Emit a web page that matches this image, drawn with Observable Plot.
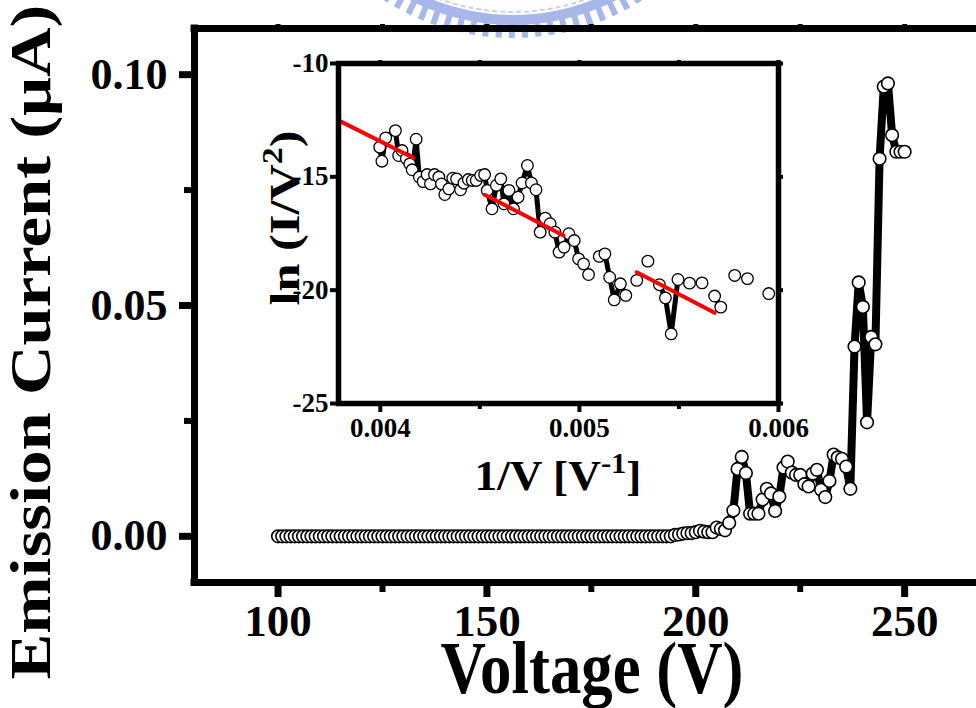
<!DOCTYPE html>
<html><head><meta charset="utf-8">
<script src="https://cdn.jsdelivr.net/npm/d3@7"></script>
<script src="https://cdn.jsdelivr.net/npm/@observablehq/plot@0.6"></script>
<style>
html,body{margin:0;padding:0;background:#fff;overflow:hidden;}
#chart{position:relative;width:976px;height:708px;}
#chart svg{position:absolute;}
</style></head><body><div id="chart"></div>
<script>
// ---- main series: Voltage (V) vs Emission Current (uA)
const voltage = [
100,101,102,103,104,105,106,107,108,109,110,111,112,113,114,115,116,117,118,119,
120,121,122,123,124,125,126,127,128,129,130,131,132,133,134,135,136,137,138,139,
140,141,142,143,144,145,146,147,148,149,150,151,152,153,154,155,156,157,158,159,
160,161,162,163,164,165,166,167,168,169,170,171,172,173,174,175,176,177,178,179,
180,181,182,183,184,185,186,187,188,189,190,191,192,193,194,195,196,197,198,199,
200,201,202,203,204,205,206,207,208,209,210,211,212,213,214,215,216,217,218,219,
220,221,222,223,224,225,226,227,228,229,230,231,232,233,234,235,236,237,238,239,
240,241,242,243,244,245,246,247,248,249,250];
const current = [
0,0,0,0,0,0,0,0,0,0,0,0,0,0,0,0,0,0,0,0,
0,0,0,0,0,0,0,0,0,0,0,0,0,0,0,0,0,0,0,0,
0,0,0,0,0,0,0,0,0,0,0,0,0,0,0,0,0,0,0,0,
0,0,0,0,0,0,0,0,0,0,0,0,0,0,0,0,0,0,0,0,
0,0,0,0,0,0,0,0,0,0,0,0,0,0,0,0.0003,0.0004,0.0006,0.0007,0.0007,
0.0009,0.0012,0.0010,0.0009,0.0009,0.0019,0.0016,0.0013,0.0029,0.0056,
0.0146,0.0172,0.0137,0.0049,0.0049,0.0049,0.0080,0.0103,0.0093,0.0055,
0.0086,0.0149,0.0162,0.0138,0.0133,0.0133,0.0113,0.0108,0.0136,0.0144,
0.0101,0.0085,0.0120,0.0177,0.0171,0.0168,0.0151,0.0103,0.0411,0.0550,
0.0497,0.0247,0.0432,0.0416,0.0818,0.0974,0.0981,0.0869,0.0833,0.0833,0.0833];

// ---- inset: ln(I/V^2) vs 1/V
const insetX = [
0.003997,0.004008,0.004027,0.004076,0.004092,0.004109,0.004131,0.004148,0.004160,0.004180,
0.004196,0.004215,0.004235,0.004252,0.004272,0.004294,0.004307,0.004324,0.004344,0.004364,
0.004383,0.004403,0.004420,0.004442,0.004462,0.004482,0.004504,0.004524,0.004537,0.004561,
0.004583,0.004605,0.004621,0.004646,0.004669,0.004692,0.004712,0.004739,0.004759,0.004782,
0.004803,0.004828,0.004853,0.004877,0.004898,0.004923,0.004947,0.004974,0.004996,0.005021,
0.005046,0.005100,0.005128,0.005152,0.005175,0.005206,0.005233,0.005288,0.005344,0.005402,
0.005432,0.005461,0.005495,0.005553,0.005616,0.005679,0.005710,0.005780,0.005844,0.005951];
const insetY = [
-13.69,-14.31,-13.28,-12.96,-14.06,-13.84,-14.20,-14.43,-14.69,-13.34,
-15.01,-15.21,-14.90,-15.31,-14.90,-15.01,-15.31,-15.78,-15.53,-15.06,
-15.09,-15.57,-15.28,-15.12,-15.16,-15.16,-14.94,-14.90,-15.60,-16.41,
-15.38,-15.09,-16.19,-15.60,-16.41,-15.90,-15.27,-14.50,-15.27,-15.57,
-17.44,-16.82,-17.07,-17.44,-18.32,-18.10,-17.51,-17.81,-18.62,-18.84,
-19.31,-18.51,-18.40,-19.43,-20.43,-19.72,-20.23,-19.57,-18.72,-19.76,
-20.34,-21.93,-19.53,-19.69,-19.68,-20.26,-20.75,-19.35,-19.49,-20.15];
const insetSeg = [
1,1,1,1,1,1,1,1,1,1, 1,1,1,1,1,1,1,1,1,1, 1,1,1,1,1,1,1,1,1,1,
1,1,1,1,1,1,1,1,1,1, 1,1,1,1,1,1,1,1,1,1, 1,
2,2,2,2,2,2, 3, 4, 5,5,5,5, 6, 7, 8,8, 9, 10, 11];

// ---- red linear fits in the inset
const fitId = [1,1,2,2,3,3];
const fitX = [0.00379,0.004165, 0.004524,0.004920, 0.005288,0.005679];
const fitY = [-12.51,-14.16, -15.79,-17.59, -19.21,-21.00];

// ---- ticks
const mainXTicks = [100,150,200,250];
const mainXMinor = [125,175,225];
const mainXAll = [100,125,150,175,200,225,250];
const mainYTicks = [0,0.05,0.10];
const mainYMinor = [0.025,0.075];
const insetXTicks = [0.004,0.005,0.006];
const insetXMinor = [0.0045,0.0055];
const insetXAll = [0.004,0.0045,0.005,0.0055,0.006];
const insetYTicks = [-10,-15,-20,-25];

const FONT = "'Liberation Serif','Times New Roman',Times,serif";
const mainData = voltage.map((v,i)=>({v, c: current[i]}));
const insetData = insetX.map((x,i)=>({x, y: insetY[i], s: insetSeg[i]}));
const fits = fitX.map((x,i)=>({x, y: fitY[i], id: fitId[i]}));
const noText = {text: null, tickFormat: () => "", label: null};

const main = Plot.plot({
  width: 976, height: 708,
  marginLeft: 194, marginRight: 0, marginTop: 28, marginBottom: 126,
  style: {fontFamily: FONT, fontWeight: "bold", background: "transparent", maxWidth: "none"},
  x: {domain: [80, 267.2]},
  y: {domain: [-0.01, 0.11]},
  marks: [
    Plot.axisX({ticks: mainXTicks, tickSize: 15, tickPadding: 7, fontSize: 45, fontWeight: "bold",
      strokeWidth: 7, tickFormat: d => String(d), label: null}),
    Plot.axisX({ticks: mainXMinor, tickSize: 10, strokeWidth: 6, ...noText}),
    Plot.axisX({anchor: "top", ticks: mainXAll, tickSize: 5, strokeWidth: 5, ...noText}),
    Plot.axisY({ticks: mainYTicks, tickSize: 15, tickPadding: 12, fontSize: 44, fontWeight: "bold",
      strokeWidth: 7, tickFormat: d3.format(".2f"), label: null}),
    Plot.axisY({ticks: mainYMinor, tickSize: 10, strokeWidth: 6, ...noText}),
    Plot.ruleX([80], {stroke: "black", strokeWidth: 7, strokeLinecap: "square"}),
    Plot.ruleY([-0.01, 0.11], {stroke: "black", strokeWidth: 7, strokeLinecap: "square"}),
    Plot.line(mainData, {x: "v", y: "c", stroke: "black", strokeWidth: 8, strokeLinejoin: "round"}),
    Plot.dot(mainData, {x: "v", y: "c", r: 6.3, fill: "white", stroke: "black", strokeWidth: 1.6})
  ]
});

const inset = Plot.plot({
  width: 610, height: 480,
  marginLeft: 108, marginRight: 62, marginTop: 23, marginBottom: 117,
  style: {fontFamily: FONT, fontWeight: "bold", background: "transparent", maxWidth: "none"},
  x: {domain: [0.00379, 0.006]},
  y: {domain: [-25, -10]},
  marks: [
    Plot.frame({fill: "white"}),
    Plot.axisX({ticks: insetXTicks, tickSize: 9, tickPadding: 5.5, fontSize: 27, fontWeight: "bold",
      strokeWidth: 4, tickFormat: d3.format(".3f"), label: null}),
    Plot.axisX({ticks: insetXMinor, tickSize: 6, strokeWidth: 4, ...noText}),
    Plot.axisX({anchor: "top", ticks: insetXAll, tickSize: 4, strokeWidth: 4, ...noText}),
    Plot.axisY({ticks: insetYTicks, tickSize: 8, tickPadding: 2, fontSize: 27, fontWeight: "bold",
      strokeWidth: 4, tickFormat: d => String(d), label: null}),
    Plot.axisY({anchor: "right", ticks: insetYTicks, tickSize: 4, strokeWidth: 4, ...noText}),
    Plot.line(insetData, {x: "x", y: "y", z: "s", stroke: "black", strokeWidth: 5, strokeLinejoin: "round"}),
    Plot.dot(insetData, {x: "x", y: "y", r: 5.8, fill: "white", stroke: "black", strokeWidth: 1.3}),
    Plot.line(fits, {x: "x", y: "y", z: "id", stroke: "#ff0000", strokeWidth: 4}),
    Plot.frame({stroke: "black", strokeWidth: 5.5})
  ]
});

main.style.left = "0px"; main.style.top = "0px";
inset.style.left = "230px"; inset.style.top = "40px";
const chart = document.getElementById("chart");
chart.appendChild(main);
chart.appendChild(inset);

// watermark (faint logo at the top)
const wm = d3.select(main).insert("g", ":first-child").attr("opacity", 0.85);
wm.append("circle").attr("cx", 513).attr("cy", -202).attr("r", 214).attr("fill", "none")
  .attr("stroke", "#c3cbe4").attr("stroke-width", 2).attr("stroke-dasharray", "5 3");
wm.append("circle").attr("cx", 513).attr("cy", -202).attr("r", 222).attr("fill", "none")
  .attr("stroke", "#98abe6").attr("stroke-width", 10);
wm.append("circle").attr("cx", 513).attr("cy", -202).attr("r", 233).attr("fill", "none")
  .attr("stroke", "#98abe6").attr("stroke-width", 14).attr("stroke-dasharray", "6 7");

// axis titles
const ms = d3.select(main);
ms.append("text")
  .attr("transform", "translate(50,342) rotate(-90)")
  .attr("text-anchor", "middle").attr("font-family", FONT).attr("font-weight", "bold")
  .attr("font-size", 56).attr("textLength", 675).attr("lengthAdjust", "spacingAndGlyphs")
  .attr("fill", "black")
  .text("Emission Current (μA)");
ms.append("text")
  .attr("transform", "translate(592,693) scale(1,1.18)")
  .attr("text-anchor", "middle").attr("font-family", FONT).attr("font-weight", "bold")
  .attr("font-size", 62).attr("fill", "black")
  .attr("textLength", 303).attr("lengthAdjust", "spacingAndGlyphs")
  .text("Voltage (V)");

const is = d3.select(inset);
const xt = is.append("text")
  .attr("x", 328).attr("y", 450)
  .attr("text-anchor", "middle").attr("font-family", FONT).attr("font-weight", "bold")
  .attr("font-size", 43).attr("fill", "black")
  .attr("textLength", 167).attr("lengthAdjust", "spacingAndGlyphs");
xt.append("tspan").text("1/V [V");
xt.append("tspan").attr("dy", -17).attr("font-size", 29).text("-1");
xt.append("tspan").attr("dy", 17).text("]");

const yt = is.append("text")
  .attr("transform", "translate(69,178) rotate(-90)")
  .attr("text-anchor", "middle").attr("font-family", FONT).attr("font-weight", "bold")
  .attr("font-size", 43).attr("fill", "black")
  .attr("textLength", 175).attr("lengthAdjust", "spacingAndGlyphs");
yt.append("tspan").text("ln (I/V");
yt.append("tspan").attr("dy", -17).attr("font-size", 29).text("2");
yt.append("tspan").attr("dy", 17).text(")");
</script></body></html>
